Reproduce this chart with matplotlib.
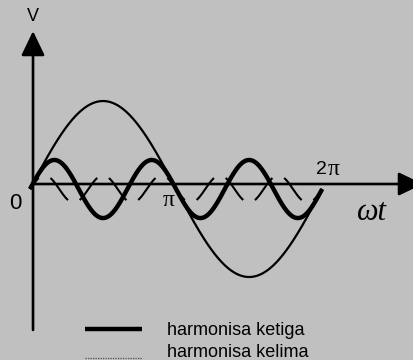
import numpy as np
import matplotlib
matplotlib.use('Agg')
import matplotlib.pyplot as plt

# harmonic orders and their amplitudes (fundamental = 1)
orders = [1, 3, 5]
amplitudes = [1.0, 0.33, 0.155]
line_widths = [1.6, 3.2, 1.5]
legend_labels = ['harmonisa ketiga', 'harmonisa kelima']

bg = '#c0c0c0'
sans = 'Liberation Sans'
serif = ['Liberation Serif', 'DejaVu Serif']

# x in rad, 1 rad ~ 46.5 px ; y in units of fundamental amplitude, 1 ~ 88 px
fig = plt.figure(figsize=(4.14, 3.6), dpi=100, facecolor=bg)
ax = fig.add_axes([0, 0, 1, 1])
ax.set_facecolor(bg)
ax.set_xlim(-0.645, 8.258)
ax.set_ylim(-1.943, 2.148)
ax.axis('off')

wt = np.linspace(0, 2*np.pi, 1500)

# fundamental and 3rd harmonic, solid
for n, a, lw in zip(orders[:2], amplitudes[:2], line_widths[:2]):
    ax.plot(wt, a*np.sin(n*wt), color='black', lw=lw, solid_capstyle='butt')

# 5th harmonic, broken into dashes around each zero crossing
n5 = orders[2]
y5 = amplitudes[2]*np.sin(n5*wt)
phase = n5*wt
dist = np.abs(phase - np.pi*np.round(phase/np.pi))
y5[dist > 0.95] = np.nan
ax.plot(wt, y5, color='black', lw=line_widths[2], solid_capstyle='butt')

# axes with arrow heads
ax_y = 0.057
ax_x = 0.065
arrow = dict(arrowstyle='-|>,head_length=1.5,head_width=0.72', color='black',
             lw=1.9, mutation_scale=10, shrinkA=0, shrinkB=0)
ax.annotate('', xy=(8.45, ax_y), xytext=(ax_x, ax_y), arrowprops=arrow,
            annotation_clip=False)
ax.annotate('', xy=(ax_x, 1.795), xytext=(ax_x, -1.602), arrowprops=arrow,
            annotation_clip=False)

# axis labels
ax.text(ax_x, 1.966, 'V', family=sans, fontsize=13, ha='center', va='center')
ax.text(-0.32, -0.17, '0', family=sans, fontsize=16, ha='center', va='center')
ax.text(2.97, -0.13, 'π', family=serif, fontsize=17, ha='center', va='center')
ax.text(2*np.pi + 0.1, 0.22, '2', family=sans, fontsize=14, ha='right', va='center')
ax.text(2*np.pi + 0.12, 0.22, 'π', family=serif, fontsize=17, ha='left', va='center')
ax.text(7.35, -0.27, 'ωt', family=serif, style='italic', fontsize=22,
        ha='center', va='center')

# legend
ax.plot([0.205, 0.343], [0.086, 0.086], transform=ax.transAxes, color='black',
        lw=3.2, solid_capstyle='butt')
ax.plot([0.205, 0.343], [0.006, 0.006], transform=ax.transAxes, color='#505050',
        lw=0.9, ls=(0, (1, 1)))
ax.text(0.403, 0.083, legend_labels[0], transform=ax.transAxes, family=sans,
        fontsize=13, ha='left', va='center')
ax.text(0.403, 0.022, legend_labels[1], transform=ax.transAxes, family=sans,
        fontsize=13, ha='left', va='center')

fig.savefig('out.png', dpi=100, facecolor=bg)
